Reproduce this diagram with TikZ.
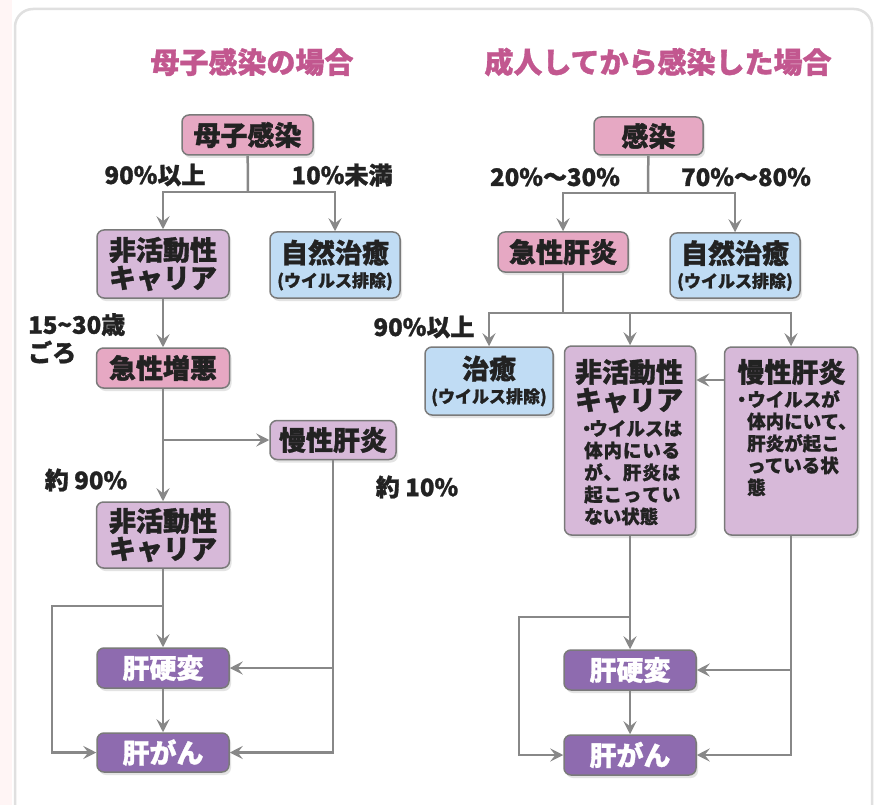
\documentclass[tikz,border=0pt]{standalone}
\usepackage{fontspec}
\setmainfont{Noto Sans CJK JP}[BoldFeatures={FakeBold=1.2}]
\usetikzlibrary{arrows.meta,shadows}
\definecolor{pinkbox}{HTML}{E6A8C3}
\definecolor{lavbox}{HTML}{D7B9D9}
\definecolor{bluebox}{HTML}{C0DCF4}
\definecolor{purbox}{HTML}{8E6BAF}
\definecolor{edgec}{HTML}{7A7A7A}
\definecolor{linec}{HTML}{888888}
\definecolor{titlec}{HTML}{C2578F}
\definecolor{txt}{HTML}{222222}
\newcommand{\fBig}{\bfseries\fontsize{27}{28}\selectfont}
\newcommand{\fSub}{\bfseries\fontsize{17}{18}\selectfont}
\newcommand{\fSmall}{\bfseries\fontsize{18.5}{22}\selectfont}
\newcommand{\fLab}{\bfseries\fontsize{24}{28}\selectfont}
\newcommand{\fTitle}{\bfseries\fontsize{29}{30}\selectfont}
\tikzset{
  box/.style={draw=edgec, line width=1.5pt, rounded corners=7pt, inner sep=0pt,
    align=center, text=txt, font=\fBig,
    drop shadow={shadow xshift=2pt, shadow yshift=-3pt, opacity=0.22}},
  pinkb/.style={box, fill=pinkbox},
  lavb/.style={box, fill=lavbox},
  blueb/.style={box, fill=bluebox},
  purb/.style={box, fill=purbox, text=white},
  lab/.style={text=txt, font=\fLab, inner sep=0pt},
  ttl/.style={text=titlec, font=\fTitle, inner sep=0pt},
  smalltxt/.style={text=txt, font=\fSmall, align=left, inner sep=0pt, anchor=north west},
  ln/.style={draw=linec, line width=2.5pt},
  arr/.style={ln, -{Stealth[length=13pt,width=13pt,inset=5pt]}}
}
\begin{document}
\begin{tikzpicture}[x=1pt,y=-1pt]
\useasboundingbox (0,0) rectangle (881,805);
\fill[white] (0,0) rectangle (881,805);
\fill[red!4] (0,0) rectangle (12,805);
\begin{scope}
\clip (0,0) rectangle (881,805);
\draw[black!12, line width=2.5pt, rounded corners=18pt] (15,830) -- (15,9) -- (872,9) -- (872,830);
\end{scope}

% titles
\node[ttl] (t1) at (252,62) {母子感染の場合};
\node[ttl] (t2) at (658,62) {成人してから感染した場合};

% ---------- left ----------
\node[pinkb, minimum width=131pt, minimum height=40pt] (ms) at (247.5,135) {母子感染};
\node[lavb, minimum width=132pt, minimum height=68pt] (lc1) at (163,264) {非活動性\\キャリア};
\node[blueb, minimum width=130pt, minimum height=66pt] (lcure) at (335,265) {自然治癒\\[-4pt]{\fSub (ウイルス排除)}};
\node[pinkb, minimum width=133pt, minimum height=40pt] (lacute) at (163,368) {急性増悪};
\node[lavb, minimum width=126pt, minimum height=39pt] (lchr) at (333,440) {慢性肝炎};
\node[lavb, minimum width=133pt, minimum height=66pt] (lc2) at (163,535) {非活動性\\キャリア};
\node[purb, minimum width=132pt, minimum height=40pt] (lcir) at (163,668) {肝硬変};
\node[purb, minimum width=132pt, minimum height=39pt] (lhcc) at (163,752.5) {肝がん};

\node[lab] (l90) at (155,175) {90\%以上};
\node[lab] (l10) at (342,175) {10\%未満};
\node[lab, align=left, anchor=north west] (lage) at (28,313) {15\textasciitilde30歳\\ごろ};
\node[lab] (l90b) at (86,480) {約 90\%};
\node[lab] (l10b) at (417,487) {約 10\%};

\coordinate (Ls) at (248,192);
\draw[ln] (ms) -- (Ls);
\draw[arr] (Ls) -| (lc1.north);
\draw[arr] (Ls) -| (lcure.north);
\draw[arr] (lc1) -- (lacute);
\coordinate (Lb1) at (163,440);
\draw[arr] (lacute) -- (lc2);
\draw[arr] (Lb1) -- (lchr.west);
\coordinate (Lb2) at (163,606);
\coordinate (Lleft) at (52,606);
\draw[arr] (lc2) -- (lcir);
\draw[arr] (Lb2) -- (Lleft) |- (lhcc.west);
\draw[arr] (lcir) -- (lhcc);
\draw[arr] (lchr.south) |- (lhcc.east);
\draw[arr] (lchr.south |- lcir.east) -- (lcir.east);

% ---------- right ----------
\node[pinkb, minimum width=109pt, minimum height=38pt] (rinf) at (648.5,136) {感染};
\node[pinkb, minimum width=130pt, minimum height=40pt] (rac) at (563,252) {急性肝炎};
\node[blueb, minimum width=130pt, minimum height=65pt] (rcure1) at (735,265.5) {自然治癒\\[-4pt]{\fSub (ウイルス排除)}};
\node[blueb, minimum width=128pt, minimum height=68pt] (rcure2) at (489,381) {治癒\\[-4pt]{\fSub (ウイルス排除)}};
\node[lavb, minimum width=131pt, minimum height=189pt] (rc) at (630,440.5) {};
\node[lavb, minimum width=133pt, minimum height=188pt] (rchr) at (791,441) {};
\node[purb, minimum width=132pt, minimum height=40pt] (rcir) at (630,670) {肝硬変};
\node[purb, minimum width=132pt, minimum height=40pt] (rhcc) at (630,755) {肝がん};

\node[text=txt, font=\fBig, align=center, inner sep=0pt] (rct) at (629,386) {非活動性\\キャリア};
\node[smalltxt] (rcs) at (584,420) {%
\makebox[98pt][s]{\makebox[5pt]{・}ウ\hfill イ\hfill ル\hfill ス\hfill は}\\
\makebox[96pt][s]{体\hfill 内\hfill に\hfill い\hfill る}\\
\makebox[96pt][s]{が\hfill 、\hfill 肝\hfill 炎\hfill は}\\
\makebox[96pt][s]{起\hfill こ\hfill っ\hfill て\hfill い}\\
ない状態};
\node[text=txt, font=\fBig, inner sep=0pt] (rcht) at (791.5,372) {慢性肝炎};
\node[smalltxt] (rchs) at (736,390) {%
\makebox[11pt]{・}ウイルスが\\
\hspace*{11pt}体内にいて、\\
\hspace*{11pt}肝炎が起こ\\
\hspace*{11pt}っている状\\
\hspace*{11pt}態};

\node[lab] (r20) at (555,177) {20\%〜30\%};
\node[lab] (r70) at (746,177) {70\%〜80\%};
\node[lab] (r90) at (424,327) {90\%以上};

\coordinate (Rs) at (648,193);
\draw[ln] (rinf) -- (Rs);
\draw[arr] (Rs) -| (rac.north);
\draw[arr] (Rs) -| (rcure1.north);
\coordinate (Rb) at (563,313);
\draw[ln] (rac) -- (Rb);
\draw[arr] (Rb) -| (rcure2.north);
\draw[arr] (Rb) -| (rc.north);
\draw[arr] (Rb) -| (rchr.north);
\coordinate (Ry) at (0,380);
\draw[arr] (rchr.west |- Ry) -- (rc.east |- Ry);
\coordinate (Rb2) at (630,617);
\coordinate (Rleft) at (519,617);
\draw[arr] (rc) -- (rcir);
\draw[arr] (Rb2) -- (Rleft) |- (rhcc.west);
\draw[arr] (rcir) -- (rhcc);
\draw[arr] (rchr.south) |- (rhcc.east);
\draw[arr] (rchr.south |- rcir.east) -- (rcir.east);
\end{tikzpicture}
\end{document}
